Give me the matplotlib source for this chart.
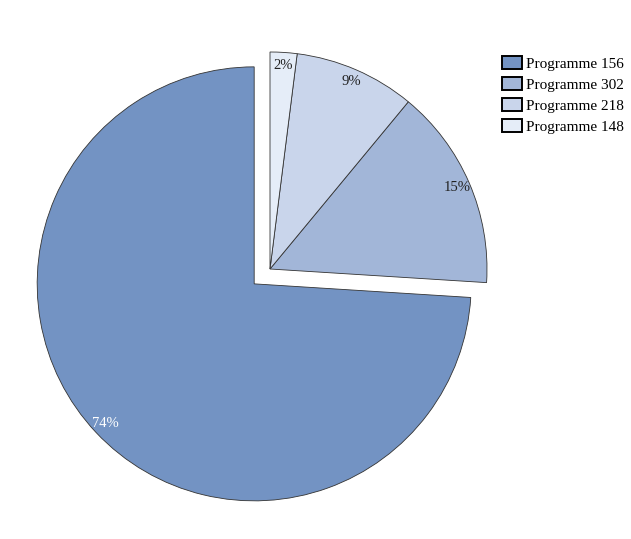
import matplotlib
matplotlib.use("Agg")
import matplotlib.pyplot as plt
from matplotlib.patches import Patch

labels = ["Programme 156", "Programme 302", "Programme 218", "Programme 148"]
values = [74, 15, 9, 2]
colors = ["#7393c3", "#a2b6d8", "#c9d5eb", "#e5edf8"]
explode = [0.1, 0, 0, 0]

W, H = 631, 539
fig = plt.figure(figsize=(W / 100, H / 100), dpi=100)
ax = fig.add_axes([0, 0, 1, 1])
plt.rcParams['font.family'] = ['Liberation Serif', 'DejaVu Serif']

wedges, texts, autotexts = ax.pie(
    values, colors=colors, explode=explode, startangle=90, counterclock=True,
    autopct="%d%%", pctdistance=0.94, radius=1.0,
    wedgeprops=dict(edgecolor="#333333", linewidth=0.6),
    textprops=dict(family="Liberation Serif", fontsize=10.5),
)
autotexts[0].set_color("white")
for t in autotexts[1:]:
    t.set_color("#222222")

cx, cy, r = 270, 269, 217
ax.set_xlim((0 - cx) / r, (W - cx) / r)
ax.set_ylim((cy - H) / r, (cy - 0) / r)
ax.set_aspect("auto")
ax.axis("off")

handles = [Patch(facecolor=c, edgecolor="black", linewidth=1.4) for c in colors]
fig.legend(handles, labels, loc="upper left", bbox_to_anchor=(502 / W, 1 - 56 / H),
           frameon=False, prop=dict(family="Liberation Serif", size=11),
           handlelength=1.3, handleheight=0.9, handletextpad=0.3, labelspacing=0.42,
           borderaxespad=0, borderpad=0)

fig.savefig("out.png", dpi=100)
